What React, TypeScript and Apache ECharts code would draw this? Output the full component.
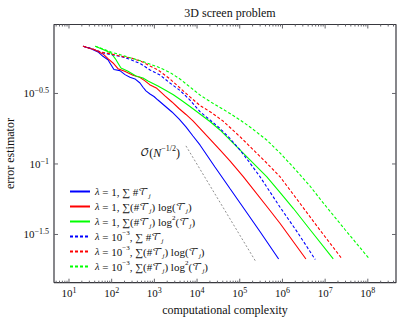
import React, { useEffect, useRef } from 'react';
import * as echarts from 'echarts';

// ---- data (computational complexity, error estimator) ----
const blueSolidCost = [21.3, 32.7, 47.8, 62.5, 81.8, 96.3, 113, 156, 205, 268, 351, 460, 541, 636, 789, 979, 1214, 1770, 2582, 3767, 5495, 8017, 11695, 26250, 58900, 132400, 297000, 814700];
const blueSolidErr = [0.684, 0.657, 0.623, 0.58, 0.549, 0.506, 0.467, 0.459, 0.43, 0.412, 0.401, 0.375, 0.35, 0.33, 0.3137, 0.301, 0.284, 0.2578, 0.2337, 0.2085, 0.183, 0.1579, 0.1364, 0.0952, 0.067, 0.0472, 0.0332, 0.0212];

const redSolidCost = [21.3, 40.0, 62.5, 81.8, 107.3, 140.4, 201.6, 315.3, 452.5, 592.7, 776.3, 1108, 1770, 2582, 3767, 5495, 8017, 11695, 34380, 58900, 120800, 465000, 873900, 3548000];
const redSolidErr = [0.684, 0.6465, 0.6028, 0.5582, 0.5203, 0.4741, 0.4544, 0.4257, 0.412, 0.3898, 0.365, 0.3459, 0.3036, 0.2752, 0.2474, 0.2244, 0.2018, 0.1791, 0.1257, 0.105, 0.0813, 0.0485, 0.038, 0.0212];

const greenSolidCost = [41.3, 62.5, 96.3, 126.1, 165.1, 240.8, 370.7, 541, 708.4, 927.2, 1214, 1869, 2726, 4198, 6820, 11695, 20050, 34380, 101100, 426600, 873900, 1790000, 4406000, 15480000];
const greenSolidErr = [0.684, 0.6487, 0.6126, 0.549, 0.4796, 0.4544, 0.4208, 0.4074, 0.3879, 0.3723, 0.3574, 0.3322, 0.3111, 0.284, 0.2557, 0.2262, 0.2001, 0.1742, 0.1257, 0.0813, 0.0628, 0.0485, 0.0343, 0.0212];

const blueDashCost = [21.3, 32.7, 47.8, 69.7, 96.3, 165.1, 283.1, 485.7, 789, 1352, 2319, 3977, 6820, 11695, 20050, 34380, 58900, 101100, 173400, 297000, 873900, 2307000, 5864000];
const blueDashErr = [0.684, 0.6594, 0.633, 0.6076, 0.5959, 0.5786, 0.549, 0.5118, 0.4642, 0.4278, 0.375, 0.3322, 0.284, 0.2349, 0.2052, 0.1786, 0.1517, 0.1257, 0.1016, 0.0813, 0.0495, 0.0324, 0.021];

const redDashCost = [21.3, 34.6, 56.2, 96.3, 165.1, 283.1, 485.7, 789, 1214, 2319, 3977, 6820, 11695, 22330, 40430, 101100, 203800, 426600, 873900, 2570000, 7553000, 24340000];
const redDashErr = [0.684, 0.6541, 0.6226, 0.6028, 0.5805, 0.5646, 0.5353, 0.4955, 0.4642, 0.4007, 0.3459, 0.2987, 0.26, 0.23, 0.2018, 0.1562, 0.1267, 0.1016, 0.0813, 0.0526, 0.034, 0.0214];

const greenDashCost = [41.3, 62.5, 96.3, 165.1, 283.1, 485.7, 832.5, 1214, 2319, 3977, 6820, 11695, 20050, 34380, 58900, 101100, 173400, 426600, 873900, 1962000, 4406000, 9027000, 29090000, 106200000];
const greenDashErr = [0.684, 0.6541, 0.6226, 0.5929, 0.5646, 0.5378, 0.5077, 0.4875, 0.4456, 0.4007, 0.3516, 0.3086, 0.2775, 0.2516, 0.2281, 0.2052, 0.183, 0.148, 0.1197, 0.0921, 0.0698, 0.0529, 0.0343, 0.0214];

const guideCost = [5495, 239900];
const guideErr = [0.1343, 0.0202];

// tick exponents (axis labels 10^k)
const xTickExps = [1, 2, 3, 4, 5, 6, 7, 8];
const yTickExps = [-1.5, -1, -0.5];

const seriesNames = [
  'λ = 1, ∑ #T_j',
  'λ = 1, ∑(#T_j) log(T_j)',
  'λ = 1, ∑(#T_j) log²(T_j)',
  'λ = 10⁻³, ∑ #T_j',
  'λ = 10⁻³, ∑(#T_j) log(T_j)',
  'λ = 10⁻³, ∑(#T_j) log²(T_j)',
];
const legendRich = [
  '{i|λ} = 1, {o|∑} #{c|𝒯}{s|j}',
  '{i|λ} = 1, {o|∑}(#{c|𝒯}{s|j}) log({c|𝒯}{s|j})',
  '{i|λ} = 1, {o|∑}(#{c|𝒯}{s|j}) log{p|2}({c|𝒯}{s|j})',
  '{i|λ} = 10{p|−3}, {o|∑} #{c|𝒯}{s|j}',
  '{i|λ} = 10{p|−3}, {o|∑}(#{c|𝒯}{s|j}) log({c|𝒯}{s|j})',
  '{i|λ} = 10{p|−3}, {o|∑}(#{c|𝒯}{s|j}) log{p|2}({c|𝒯}{s|j})',
];

const xMin = 0.649, xMax = 8.66, yMin = -1.842, yMax = -0.011;

const FONT = "'Liberation Serif', 'DejaVu Serif', serif";
const MATHFONT = "'DejaVu Math TeX Gyre', 'DejaVu Serif', 'DejaVu Sans', serif";

const richStyles = {
  i: { fontFamily: FONT, fontStyle: 'italic', fontSize: 10.5, lineHeight: 15, color: '#111' },
  o: { fontFamily: FONT, fontSize: 11, lineHeight: 15, color: '#111' },
  c: { fontFamily: MATHFONT, fontSize: 10, lineHeight: 15, color: '#111' },
  s: { fontFamily: FONT, fontStyle: 'italic', fontSize: 7, lineHeight: 15, verticalAlign: 'bottom', color: '#111' },
  p: { fontFamily: FONT, fontSize: 7, lineHeight: 15, verticalAlign: 'top', color: '#111' },
  b: { fontFamily: FONT, fontSize: 11, lineHeight: 15, color: '#111' },
};
const guideRich = {
  c: { fontFamily: MATHFONT, fontSize: 11.5, lineHeight: 16, color: '#111' },
  b: { fontFamily: FONT, fontSize: 12, lineHeight: 16, color: '#111' },
  i: { fontFamily: FONT, fontStyle: 'italic', fontSize: 12, lineHeight: 16, color: '#111' },
  p: { fontFamily: FONT, fontSize: 8, lineHeight: 16, verticalAlign: 'top', color: '#111' },
};

function toPts(cost: number[], err: number[]) {
  return cost.map((c, i) => [Math.log10(c), Math.log10(err[i])]);
}

function minorTicks(): number[] {
  const out: number[] = [];
  for (let n = 0; n <= 8; n++) {
    for (let k = 2; k <= 9; k++) {
      const v = Math.log10(k) + n;
      if (v > xMin && v < xMax) out.push(v);
    }
  }
  return out;
}

function fmtExp(v: number) {
  const s = String(v).replace('-', '−');
  return `{b|10}{p|${s}}`;
}

export default function App() {
  const ref = useRef<HTMLDivElement>(null);
  useEffect(() => {
    if (!ref.current) return;
    const chart = echarts.init(ref.current, undefined, { renderer: 'svg' });
    const minors = minorTicks();
    const labelRich = {
      b: { fontFamily: FONT, fontSize: 11, lineHeight: 13, color: '#111' },
      p: { fontFamily: FONT, fontSize: 8, lineHeight: 13, verticalAlign: 'top', color: '#111' },
    };

    // tick lengths in axis units (4px / 2px at this grid size)
    const txMajor = (xMax - xMin) * 4 / 342;
    const tyMajor = (yMax - yMin) * 4 / 258.2;
    const tyMinor = (yMax - yMin) * 2 / 258.2;
    const GAP: any = ['-', '-'];
    const frameBox = [[xMin, yMin], [xMax, yMin], [xMax, yMax], [xMin, yMax], [xMin, yMin]];
    const tickSegs: any[] = [];
    xTickExps.forEach((v) => {
      tickSegs.push([v, yMin], [v, yMin + tyMajor], GAP, [v, yMax], [v, yMax - tyMajor], GAP);
    });
    minors.forEach((v) => {
      tickSegs.push([v, yMin], [v, yMin + tyMinor], GAP, [v, yMax], [v, yMax - tyMinor], GAP);
    });
    yTickExps.forEach((v) => {
      tickSegs.push([xMin, v], [xMin + txMajor, v], GAP, [xMax, v], [xMax - txMajor, v], GAP);
    });

    const mkLine = (name: string, color: string, dashed: boolean, cost: number[], err: number[]) => ({
      type: 'line', name, data: toPts(cost, err), symbol: 'none', smooth: false,
      lineStyle: { color, width: 1.1, type: dashed ? [3, 2] : 'solid' },
      itemStyle: { color, opacity: 0 },
    });

    const gp = toPts(guideCost, guideErr);
    chart.setOption({
      animation: false,
      title: {
        text: '3D screen problem', left: 225, top: 2, textAlign: 'center',
        textStyle: { fontFamily: FONT, fontSize: 12, fontWeight: 'normal', color: '#111' },
      },
      grid: { left: 54, top: 24.5, right: 3, bottom: 36.3, outerBoundsMode: 'none' },
      xAxis: {
        type: 'value', position: 'bottom', min: xMin, max: xMax,
        axisLine: { show: false }, axisTick: { show: false }, splitLine: { show: false },
        axisLabel: { show: true, customValues: xTickExps, margin: 4, formatter: (v: number) => fmtExp(v), rich: labelRich },
        name: 'computational complexity', nameLocation: 'middle', nameGap: 21, nameMoveOverlap: false,
        nameTextStyle: { fontFamily: FONT, fontSize: 12, color: '#111' },
      },
      yAxis: {
        type: 'value', position: 'left', min: yMin, max: yMax,
        axisLine: { show: false }, axisTick: { show: false }, splitLine: { show: false },
        axisLabel: { show: true, customValues: yTickExps, margin: 5, formatter: (v: number) => fmtExp(v), rich: labelRich },
        name: 'error estimator', nameLocation: 'middle', nameGap: 38, nameRotate: 90, nameMoveOverlap: false,
        nameTextStyle: { fontFamily: FONT, fontSize: 12, color: '#111' },
      },
      legend: {
        data: seriesNames,
        orient: 'vertical', left: 69, top: 184, padding: 0, itemGap: 0,
        itemWidth: 20, itemHeight: 10,
        formatter: (name: string) => legendRich[seriesNames.indexOf(name)],
        textStyle: { fontFamily: FONT, fontSize: 11, lineHeight: 15, color: '#111', rich: richStyles },
      },
      series: [
        {
          type: 'line', name: 'frame', data: frameBox, symbol: 'none', clip: false, z: 5,
          lineStyle: { color: '#38383e', width: 1.2 }, itemStyle: { color: '#38383e' },
        },
        {
          type: 'line', name: 'ticks', data: tickSegs, symbol: 'none', clip: false, z: 5,
          connectNulls: false,
          lineStyle: { color: '#66666c', width: 1 }, itemStyle: { color: '#66666c' },
        },
        mkLine(seriesNames[0], '#0000ff', false, blueSolidCost, blueSolidErr),
        mkLine(seriesNames[1], '#ff0000', false, redSolidCost, redSolidErr),
        mkLine(seriesNames[2], '#00ff00', false, greenSolidCost, greenSolidErr),
        mkLine(seriesNames[3], '#0000ff', true, blueDashCost, blueDashErr),
        mkLine(seriesNames[4], '#ff0000', true, redDashCost, redDashErr),
        mkLine(seriesNames[5], '#00ff00', true, greenDashCost, greenDashErr),
        {
          type: 'line', name: 'guide', symbol: 'circle', symbolSize: 0.1, showSymbol: true,
          itemStyle: { color: 'rgba(0,0,0,0)' },
          lineStyle: { color: '#444', width: 0.6, type: [2, 2] },
          data: [
            {
              value: gp[0],
              label: {
                show: true, position: 'left', distance: 2, offset: [-4, 7],
                formatter: '{c|𝒪}{b|(}{i|N}{p|−1/2}{b|)}',
                rich: guideRich,
              },
            },
            { value: gp[1] },
          ],
        },
      ],
    });
    return () => chart.dispose();
  }, []);
  return <div ref={ref} style={{ width: 399, height: 319, position: 'absolute', left: 0, top: 0 }} />;
}
